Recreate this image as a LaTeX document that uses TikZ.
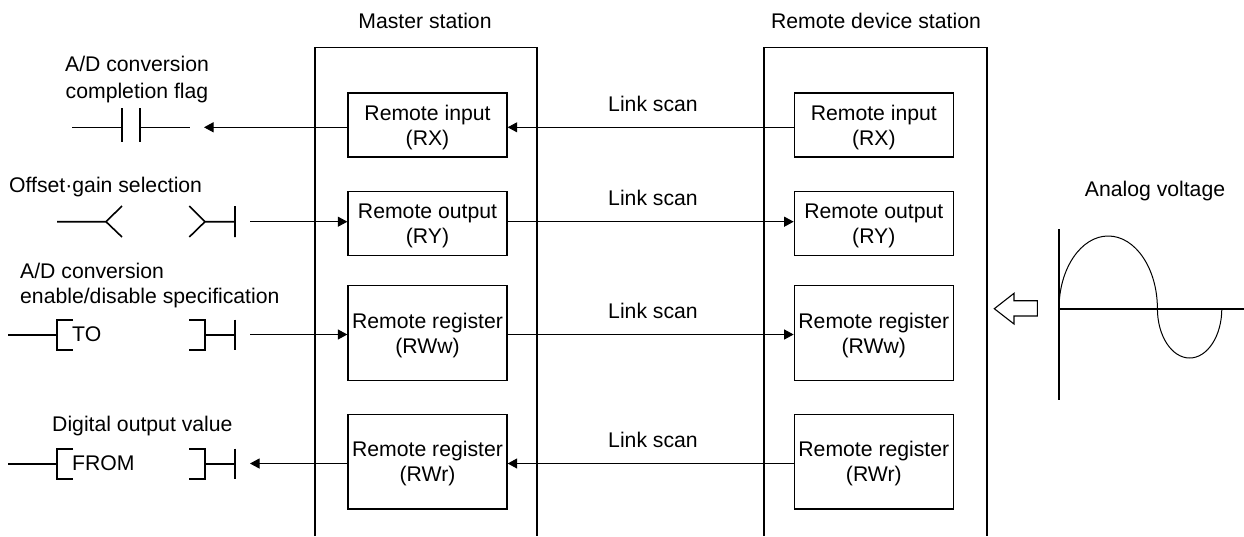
\documentclass[tikz,border=0pt]{standalone}
\usepackage{fontspec}
\setmainfont{Liberation Sans}
\usetikzlibrary{arrows.meta}
\tikzset{
txt/.style={font=\fontsize{21.2}{25}\selectfont, inner sep=0pt},
regbox/.style={txt, draw, line width=1.3pt, minimum width=159pt, align=center},
link/.style={line width=1pt, -{Triangle[length=9.5pt,width=10pt]}},
wire/.style={line width=1pt},
sym/.style={line width=1.6pt},
frame/.style={line width=1.5pt}
}
\newcommand{\upstrut}{\rule{0pt}{19.5pt}}
\begin{document}
\begin{tikzpicture}[x=1pt,y=-1pt]
\useasboundingbox (0,0) rectangle (1244,536);
% stations
\draw[frame] (315,536) -- (315,47.5) -- (537,47.5) -- (537,536);
\draw[frame] (764,536) -- (764,47.5) -- (987,47.5) -- (987,536);
\node[txt, anchor=base] (mastertitle) at (425,28.3) {Master station};
\node[txt, anchor=base] (remotetitle) at (876,28.3) {Remote device station};
% registers
\foreach \yc/\hgt/\name/\lineone/\linetwo in {125/64/RX/Remote input/(RX),223.4/64.5/RY/Remote output/(RY),333/94.5/RWw/Remote register/(RWw),461.7/94.5/RWr/Remote register/(RWr)}{
\node[regbox, minimum height=\hgt pt] (m\name) at (427.5,\yc) {\upstrut\lineone\\\linetwo};
\node[regbox, minimum height=\hgt pt] (r\name) at (873.8,\yc) {\upstrut\lineone\\\linetwo};
}
\foreach \name/\yb in {a/111,b/205.7,c/318.3,d/447.7}{
\node[txt, anchor=base] (scan\name) at (653,\yb) {Link scan};
}
% arrow heights
\coordinate (rowa) at (0,127.3);
\coordinate (rowb) at (0,221.7);
\coordinate (rowc) at (0,334.5);
\coordinate (rowd) at (0,463.5);
\coordinate (enda) at (204,127.3);
\coordinate (endb) at (250,221.7);
\coordinate (endc) at (250,334.5);
\coordinate (endd) at (250,463.5);
\draw[link] (rRX.west |- rowa) -- (mRX.east |- rowa);
\draw[link] (mRY.east |- rowb) -- (rRY.west |- rowb);
\draw[link] (mRWw.east |- rowc) -- (rRWw.west |- rowc);
\draw[link] (rRWr.west |- rowd) -- (mRWr.east |- rowd);
\draw[link] (mRX.west |- rowa) -- (enda);
\draw[link] (endb) -- (mRY.west |- rowb);
\draw[link] (endc) -- (mRWw.west |- rowc);
\draw[link] (mRWr.west |- rowd) -- (endd);
% ladder symbols
\node[txt, anchor=base] (flaga) at (137,71) {A/D conversion};
\node[txt, anchor=base] (flagb) at (137,98) {completion flag};
\draw[sym] (72,127.3) -- (122,127.3) (122,108) -- (122,142) (140,108) -- (140,142) (140,127.3) -- (190,127.3);
\node[txt, anchor=base west] (offset) at (9,192.7) {Offset·gain selection};
\draw[sym] (57,221.7) -- (106,221.7) (122,206) -- (106,221.7) -- (122,237);
\draw[sym] (189.3,206) -- (205,221.7) -- (189.3,237) (205,221.7) -- (235,221.7) (235,206) -- (235,237);
\node[txt, anchor=base west] (enablea) at (20,278) {A/D conversion};
\node[txt, anchor=base west] (enableb) at (20,303) {enable/disable specification};
\node[txt, anchor=base west] (digital) at (52,431.7) {Digital output value};
\foreach \yc/\name/\word in {334.7/to/TO,463.7/from/FROM}{
\node[txt, anchor=base west] (\name) at (72,\yc+7) {\word};
\draw[sym] (8,\yc) -- (57,\yc) (73,\yc-15) -- (57,\yc-15) -- (57,\yc+15) -- (73,\yc+15);
\draw[sym] (189,\yc-15) -- (205,\yc-15) -- (205,\yc+15) -- (189,\yc+15) (205,\yc) -- (235,\yc) (235,\yc-15) -- (235,\yc+15);
}
% analog input
\node[txt, anchor=base] (analog) at (1155,196) {Analog voltage};
\draw[line width=1.1pt] (994.3,308.7) -- (1014,293.3) -- (1014,300.7) -- (1037.3,300.7) -- (1037.3,316) -- (1014,316) -- (1014,324) -- cycle;
\draw[sym] (1059,229.3) -- (1059,400) (1059,308.7) -- (1244,308.7);
\draw[wire] (1059,308.7) arc[start angle=180, end angle=360, x radius=49.2, y radius=72.7] arc[start angle=180, end angle=0, x radius=32.2, y radius=49.3];
\end{tikzpicture}
\end{document}
